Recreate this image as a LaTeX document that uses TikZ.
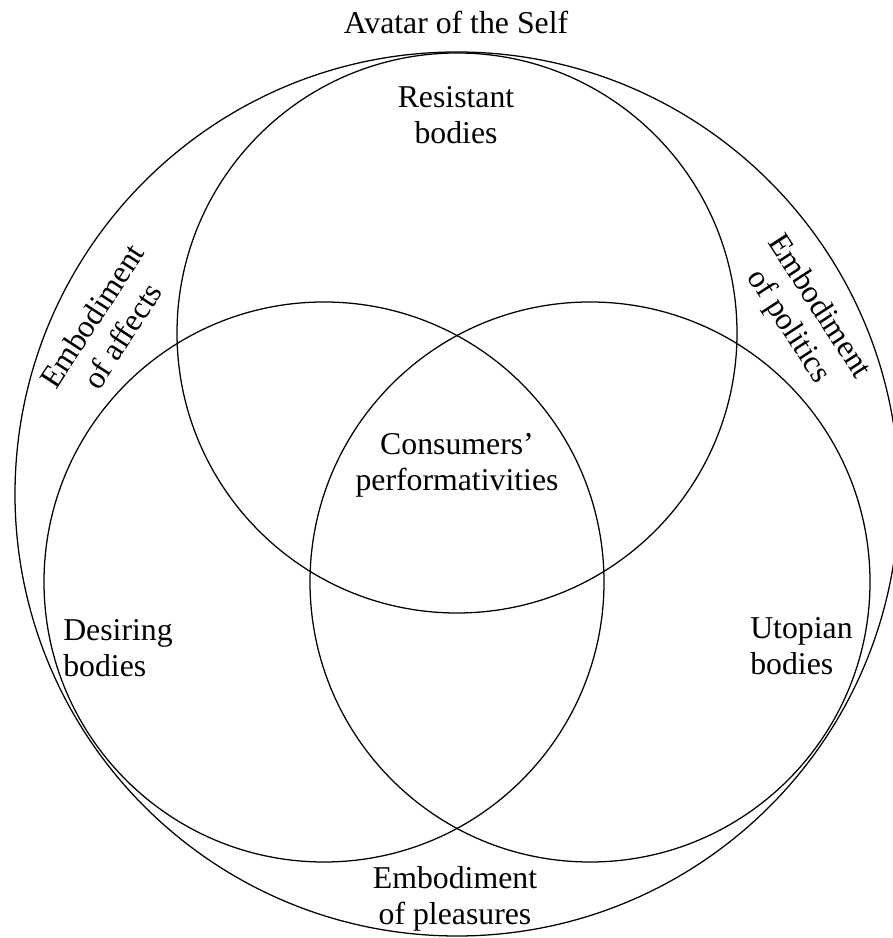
\documentclass[tikz,border=0pt]{standalone}
\usepackage{fontspec}
\setmainfont{Liberation Serif}
\usepackage{tikz}

\begin{document}
\begin{tikzpicture}[
  ring/.style={draw=black,line width=0.9pt},
  t/.style={align=center,inner sep=0pt,font=\fontsize{22.6}{25.8}\selectfont},
  tl/.style={align=left,inner sep=0pt,anchor=west,font=\fontsize{22.6}{25.8}\selectfont}]
\useasboundingbox (0,0) rectangle (22.3,23.45);
% circles
\draw[ring] (11.425,11.1) circle (11.05);
\draw[ring] (11.425,15.125) circle (7.0);
\draw[ring] (8.1,8.9) circle (7.0);
\draw[ring] (14.75,8.9) circle (7.0);
% labels
\node[t] (self) at (11.4,22.9) {Avatar of the Self};
\node[t] (resist) at (11.4,20.575) {Resistant\\bodies};
\node[t] (perf) at (11.425,11.825) {Consumers'\\performativities};
\node[tl] (desire) at (1.575,7.25) {Desiring\\bodies};
\node[tl] (utopia) at (18.75,7.3) {Utopian\\bodies};
\node[t] (pleas) at (11.375,0.975) {Embodiment\\of pleasures};
\node[t,rotate=57] (affect) at (2.675,15.3) {Embodiment\\of affects};
\node[t,rotate=-57] (polit) at (20.075,15.525) {Embodiment\\of politics};
\end{tikzpicture}
\end{document}
